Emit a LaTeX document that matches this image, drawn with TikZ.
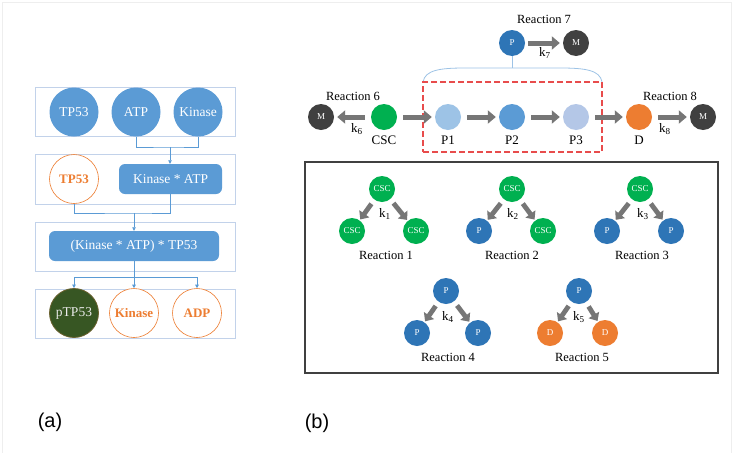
\documentclass[tikz,border=0pt]{standalone}
\usepackage{fontspec}
\setmainfont{Liberation Serif}
\newfontfamily\panelfont{Liberation Sans}
\usetikzlibrary{arrows.meta}
\definecolor{ablue}{HTML}{5B9BD5}
\definecolor{aorange}{HTML}{ED7D31}
\definecolor{rowc}{HTML}{C2D2EA}
\definecolor{pgreen}{HTML}{375623}
\definecolor{pgreenrim}{HTML}{6B6230}
\definecolor{garrow}{HTML}{767676}
\definecolor{mgray}{HTML}{404040}
\definecolor{cgreen}{HTML}{00B050}
\definecolor{pblue}{HTML}{2E75B6}
\definecolor{pone}{HTML}{9DC3E6}
\definecolor{ptwo}{HTML}{5B9BD5}
\definecolor{pthree}{HTML}{B4C7E7}
\definecolor{bracec}{HTML}{9DC3E6}
\definecolor{redd}{HTML}{E84C4C}
\definecolor{framec}{HTML}{EEEEEE}
\tikzset{
  rowbox/.style={draw=rowc, line width=0.8pt, minimum width=200pt, minimum height=49pt, inner sep=0pt},
  abig/.style={circle, fill=ablue, minimum size=49pt, inner sep=0pt, text=white, font=\fontsize{13.5}{15}\selectfont},
  aorg/.style={circle, draw=aorange, fill=white, line width=0.6pt, minimum size=49pt, inner sep=0pt, text=aorange, font=\bfseries\fontsize{13}{15}\selectfont},
  arect/.style={rectangle, rounded corners=6pt, fill=ablue, text=white, inner sep=0pt, minimum height=30pt, font=\fontsize{13.5}{15}\selectfont},
  aline/.style={draw=ablue, line width=0.7pt},
  aarrow/.style={aline, -{Triangle[length=3.5pt,width=3.5pt]}},
  sm/.style={circle, minimum size=26pt, inner sep=0pt, text=white, font=\fontsize{9}{10}\selectfont},
  lbl/.style={inner sep=0pt, font=\fontsize{12.5}{14}\selectfont},
  klbl/.style={inner sep=0pt, font=\fontsize{13}{14}\selectfont},
  bigarrow/.style={draw=garrow, line width=5pt, -{Triangle[length=8pt,width=13pt]}, shorten <=6pt, shorten >=3pt},
  darrow/.style={draw=garrow, line width=4.8pt, -{Triangle[length=7pt,width=12pt]}, shorten <=5pt, shorten >=1pt}
}
\begin{document}
\begin{tikzpicture}[x=1pt,y=-1pt]
\useasboundingbox (0,0) rectangle (733,453);
\fill[white] (0,0) rectangle (733,453);
\draw[framec, line width=0.8pt] (2,453) -- (2,2) -- (731,2) -- (731,453);

% ---------- panel (a) ----------
\node[rowbox] (r1) at (135.7,112.2) {};
\node[rowbox, minimum height=50pt] (r2) at (135.7,179) {};
\node[rowbox] (r3) at (135.7,246.5) {};
\node[rowbox] (r4) at (135.7,313.5) {};

\node[abig] (tpa) at (74,112) {TP53};
\node[abig] (atp) at (136,112) {ATP};
\node[abig] (kin) at (198,112) {Kinase};

\node[aorg] (tpo) at (74,179) {TP53};
\node[arect, minimum width=103pt] (ka) at (170.5,179) {Kinase * ATP};

\node[arect, minimum width=170pt] (cx) at (134,246) {(Kinase * ATP) * TP53};

\node[circle, fill=pgreen, draw=pgreenrim, line width=0.8pt, minimum size=49pt, inner sep=0pt, text=white!92!black, font=\fontsize{13.5}{15}\selectfont] (ptp) at (74,313) {pTP53};
\node[aorg] (kino) at (134,313) {Kinase};
\node[aorg] (adp) at (197,313) {ADP};

\coordinate (j1) at (170,147);
\coordinate (j2) at (134,213);
\coordinate (j3) at (134,277);
\draw[aline] (atp.south) |- (j1) -| (kin.south);
\draw[aarrow] (j1) -- (j1 |- ka.north);
\draw[aline] (tpo.south) |- (j2) -| (ka.south);
\draw[aarrow] (j2) -- (cx.north);
\draw[aarrow] (cx.south) -- (kino.north);
\draw[aarrow] (j3) -| (ptp.north);
\draw[aarrow] (j3) -| (adp.north);

\node[font=\panelfont\fontsize{20}{22}\selectfont, inner sep=0pt] (la) at (50,422) {(a)};

% ---------- panel (b) top ----------
\node[lbl] (t7) at (544,19) {Reaction 7};
\node[sm, fill=pblue] (p7) at (512,43) {P};
\node[sm, fill=mgray] (m7) at (576,43) {M};
\draw[bigarrow, shorten <=3pt] (p7) -- (m7);
\node[klbl] (k7) at (545,53) {k\textsubscript{7}};

\coordinate (bt) at (512,68);
\coordinate (bl) at (423,82);
\coordinate (br) at (602,82);
\draw[bracec, line width=0.8pt] (p7.south) -- (bt);
\draw[bracec, line width=0.8pt] (bl) .. controls (425,70) and (440,68) .. (465,68) -- (560,68) .. controls (585,68) and (600,70) .. (br);
\node[draw=redd, dashed, dash pattern=on 6pt off 3pt, line width=1.1pt, minimum width=179pt, minimum height=70pt, inner sep=0pt] (dbox) at (512.5,117) {};

\node[lbl] (t6) at (353,96) {Reaction 6};
\node[lbl] (t8) at (670,96) {Reaction 8};
\node[sm, fill=mgray] (m6) at (321,117) {M};
\node[sm, fill=cgreen] (csc) at (384,117) {};
\node[sm, fill=pone] (p1) at (448,117) {};
\node[sm, fill=ptwo] (p2) at (512,117) {};
\node[sm, fill=pthree] (p3) at (576,117) {};
\node[sm, fill=aorange] (d) at (639,117) {};
\node[sm, fill=mgray] (m8) at (703,117) {M};

\node[lbl, font=\fontsize{13}{14}\selectfont] (lcsc) at (384,140) {CSC};
\node[lbl, font=\fontsize{13}{14}\selectfont] (lp1) at (448,140) {P1};
\node[lbl, font=\fontsize{13}{14}\selectfont] (lp2) at (512,140) {P2};
\node[lbl, font=\fontsize{13}{14}\selectfont] (lp3) at (576,140) {P3};
\node[lbl, font=\fontsize{13}{14}\selectfont] (ld) at (639,140) {D};
\node[klbl] (k6) at (357,129) {k\textsubscript{6}};
\node[klbl] (k8) at (665,129) {k\textsubscript{8}};

\draw[bigarrow] (csc) -- (m6);
\draw[bigarrow] (csc) -- (p1);
\draw[bigarrow] (p1) -- (p2);
\draw[bigarrow] (p2) -- (p3);
\draw[bigarrow] (p3) -- (d);
\draw[bigarrow] (d) -- (m8);

% ---------- panel (b) box ----------
\node[draw=mgray, line width=1.2pt, minimum width=413pt, minimum height=211pt, inner sep=0pt] (rbox) at (511.5,267.5) {};

% Reaction 1
\node[sm, fill=cgreen] (a1) at (382,189) {CSC};
\node[sm, fill=cgreen] (b1) at (352,231) {CSC};
\node[sm, fill=cgreen] (c1) at (416,231) {CSC};
\draw[darrow] (a1) -- (b1);
\draw[darrow] (a1) -- (c1);
\node[klbl] (k1) at (385,214) {k\textsubscript{1}};
\node[lbl] (t1) at (386,255) {Reaction 1};
% Reaction 2
\node[sm, fill=cgreen] (a2) at (512,189) {CSC};
\node[sm, fill=pblue] (b2) at (479,231) {P};
\node[sm, fill=cgreen] (c2) at (543,231) {CSC};
\draw[darrow] (a2) -- (b2);
\draw[darrow] (a2) -- (c2);
\node[klbl] (k2) at (513,214) {k\textsubscript{2}};
\node[lbl] (t2) at (512,255) {Reaction 2};
% Reaction 3
\node[sm, fill=cgreen] (a3) at (640,189) {CSC};
\node[sm, fill=pblue] (b3) at (607,231) {P};
\node[sm, fill=pblue] (c3) at (671,231) {P};
\draw[darrow] (a3) -- (b3);
\draw[darrow] (a3) -- (c3);
\node[klbl] (k3) at (643,214) {k\textsubscript{3}};
\node[lbl] (t3) at (642,255) {Reaction 3};
% Reaction 4
\node[sm, fill=pblue] (a4) at (446,291) {P};
\node[sm, fill=pblue] (b4) at (417,333) {P};
\node[sm, fill=pblue] (c4) at (478,333) {P};
\draw[darrow] (a4) -- (b4);
\draw[darrow] (a4) -- (c4);
\node[klbl] (k4) at (448,317) {k\textsubscript{4}};
\node[lbl] (t4) at (448,357) {Reaction 4};
% Reaction 5
\node[sm, fill=pblue] (a5) at (579,291) {P};
\node[sm, fill=aorange] (b5) at (550,333) {D};
\node[sm, fill=aorange] (c5) at (605,333) {D};
\draw[darrow] (a5) -- (b5);
\draw[darrow] (a5) -- (c5);
\node[klbl] (k5) at (579,317) {k\textsubscript{5}};
\node[lbl] (t5) at (582,357) {Reaction 5};

\node[font=\panelfont\fontsize{20}{22}\selectfont, inner sep=0pt] (lb) at (317,423) {(b)};
\end{tikzpicture}
\end{document}
